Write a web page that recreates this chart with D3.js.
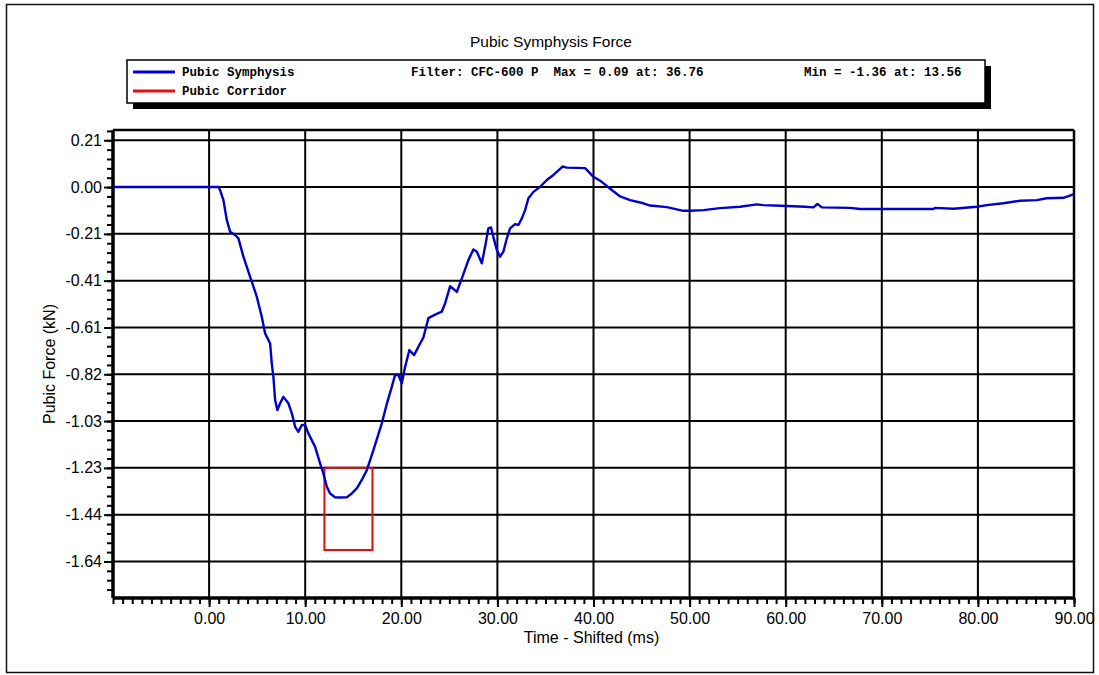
<!DOCTYPE html>
<html><head><meta charset="utf-8">
<script src="https://cdn.jsdelivr.net/npm/d3@7"></script>
<style>
body{margin:0;background:#fff}
text{font-family:"Liberation Sans",Arial,sans-serif;fill:#000}
.mono{font-family:"Liberation Mono","Courier New",monospace;font-weight:bold;font-size:12.5px;white-space:pre}
</style>
</head><body>
<svg id="c" width="1099" height="675"></svg>
<script>
// ---- data ----
const times = [-10, 0.97, 1.14, 1.49, 1.84, 2.19, 2.71, 3.05, 3.57, 4.27, 4.96, 5.48, 5.83, 6.35, 6.52, 6.69, 6.87, 7.11, 7.39, 7.73, 8.25, 8.61, 8.95, 9.29, 9.65, 9.99, 10.33, 11.03, 11.55, 11.89, 12.25, 12.59, 13.11, 13.56, 14.33, 14.85, 15.37, 15.89, 16.41, 17.10, 17.97, 18.49, 19.01, 19.35, 19.70, 20.05, 20.40, 20.84, 21.33, 21.96, 22.30, 22.82, 23.41, 24.21, 24.56, 25.08, 25.78, 26.30, 26.98, 27.50, 27.86, 28.38, 28.72, 29.06, 29.34, 29.58, 29.94, 30.28, 30.62, 30.98, 31.32, 31.84, 32.19, 32.54, 32.88, 33.23, 33.75, 34.44, 35.14, 35.83, 36.70, 36.76, 37.22, 39.13, 39.99, 40.86, 41.90, 42.77, 43.81, 45.19, 45.89, 47.63, 49.35, 50.05, 51.44, 53.17, 55.25, 56.99, 57.68, 60.11, 62.02, 62.88, 63.30, 63.76, 66.70, 67.74, 70.00, 75.37, 75.55, 77.45, 79.89, 80.93, 82.65, 84.39, 86.13, 87.17, 88.90, 89.94];
const forces = [0, 0, -0.013, -0.057, -0.144, -0.196, -0.210, -0.225, -0.305, -0.393, -0.480, -0.568, -0.641, -0.685, -0.772, -0.831, -0.933, -0.977, -0.947, -0.919, -0.947, -0.991, -1.050, -1.072, -1.042, -1.042, -1.079, -1.138, -1.210, -1.254, -1.313, -1.342, -1.359, -1.36, -1.359, -1.342, -1.320, -1.283, -1.240, -1.152, -1.035, -0.950, -0.875, -0.823, -0.823, -0.860, -0.787, -0.714, -0.736, -0.685, -0.659, -0.574, -0.561, -0.546, -0.509, -0.434, -0.459, -0.400, -0.320, -0.273, -0.283, -0.334, -0.261, -0.181, -0.177, -0.218, -0.276, -0.305, -0.283, -0.225, -0.181, -0.162, -0.166, -0.137, -0.101, -0.049, -0.021, 0.001, 0.031, 0.053, 0.086, 0.09, 0.085, 0.083, 0.045, 0.023, -0.013, -0.041, -0.057, -0.071, -0.081, -0.088, -0.104, -0.104, -0.101, -0.092, -0.086, -0.076, -0.079, -0.083, -0.086, -0.089, -0.074, -0.089, -0.091, -0.096, -0.096, -0.096, -0.091, -0.095, -0.086, -0.079, -0.071, -0.060, -0.057, -0.049, -0.047, -0.032];
const corridorTimes = [12, 12, 17, 17, 12];
const corridorForces = [-1.23, -1.59, -1.59, -1.23, -1.23];
const yTickValues = [0.205, 0, -0.205, -0.41, -0.615, -0.82, -1.025, -1.23, -1.435, -1.64];
const yTickLabels = ["0.21", "0.00", "-0.21", "-0.41", "-0.61", "-0.82", "-1.03", "-1.23", "-1.44", "-1.64"];
const xTickValues = [0, 10, 20, 30, 40, 50, 60, 70, 80, 90];
const xTickLabels = ["0.00", "10.00", "20.00", "30.00", "40.00", "50.00", "60.00", "70.00", "80.00", "90.00"];
const seriesNames = ["Pubic Symphysis", "Pubic Corridor"];
const seriesColors = ["#0000cc", "#e01010"];
const titleText = "Pubic Symphysis Force";
const statsFilter = "Filter: CFC-600 P  Max = 0.09 at: 36.76";
const statsMin = "Min = -1.36 at: 13.56";

// ---- layout ----
const svg = d3.select("#c");
const L = 113, R = 1074, T = 130, B = 598;
const x = d3.scaleLinear().domain([-10, 90]).range([L, R]);
const y = d3.scaleLinear().domain([-1.80, 0.25]).range([B, T]);

// outer border
svg.append("rect").attr("x", 6.5).attr("y", 4.5).attr("width", 1087).attr("height", 668)
  .attr("fill", "none").attr("stroke", "#111").attr("stroke-width", 1.5);

// title
svg.append("text").attr("x", 551).attr("y", 47).attr("text-anchor", "middle")
  .style("font-size", "15.5px").text(titleText);

// legend
svg.append("rect").attr("x", 133).attr("y", 66).attr("width", 858).attr("height", 43).attr("fill", "#000");
svg.append("rect").attr("x", 127).attr("y", 60).attr("width", 858).attr("height", 43)
  .attr("fill", "#fff").attr("stroke", "#000").attr("stroke-width", 1.5);
[0, 1].forEach(i => {
  const yy = 72 + i * 19;
  svg.append("line").attr("x1", 133).attr("x2", 175).attr("y1", yy).attr("y2", yy)
    .attr("stroke", seriesColors[i]).attr("stroke-width", 3);
  svg.append("text").attr("class", "mono").attr("x", 182).attr("y", yy + 4).text(seriesNames[i]);
});
svg.append("text").attr("class", "mono").attr("x", 411).attr("y", 76).text(statsFilter);
svg.append("text").attr("class", "mono").attr("x", 804).attr("y", 76).text(statsMin);

// gridlines
const grid = svg.append("g");
grid.selectAll(".h").data(yTickValues).join("line")
  .attr("x1", L).attr("x2", R).attr("y1", d => y(d)).attr("y2", d => y(d))
  .attr("stroke", "#000").attr("stroke-width", 2);
grid.selectAll(".v").data(xTickValues).join("line")
  .attr("y1", T).attr("y2", B).attr("x1", d => x(d)).attr("x2", d => x(d))
  .attr("stroke", "#000").attr("stroke-width", 2);

// frame
svg.append("line").attr("x1", L).attr("x2", R).attr("y1", T).attr("y2", T).attr("stroke", "#000").attr("stroke-width", 2.5);
svg.append("line").attr("x1", R).attr("x2", R).attr("y1", T).attr("y2", B).attr("stroke", "#000").attr("stroke-width", 2.5);

// minor ticks
const yMinor = d3.range(-44, 7).map(k => k * 0.041).filter(v => v >= -1.80 && v <= 0.25);
const xMinor = d3.range(-10, 91, 1);
const yMinorAxis = svg.append("g").attr("transform", `translate(${L},0)`)
  .call(d3.axisLeft(y).tickValues(yMinor).tickSize(6).tickFormat(""));
const xMinorAxis = svg.append("g").attr("transform", `translate(0,${B})`)
  .call(d3.axisBottom(x).tickValues(xMinor).tickSize(6).tickFormat(""));
[yMinorAxis, xMinorAxis].forEach(g => {
  g.select(".domain").remove();
  g.selectAll("line").attr("stroke", "#000").attr("stroke-width", 2);
});

// major axes
const yAxis = svg.append("g").attr("transform", `translate(${L},0)`)
  .call(d3.axisLeft(y).tickValues(yTickValues).tickSize(9).tickPadding(2).tickFormat((d, i) => yTickLabels[i]));
const xAxis = svg.append("g").attr("transform", `translate(0,${B})`)
  .call(d3.axisBottom(x).tickValues(xTickValues).tickSize(9).tickPadding(6).tickFormat((d, i) => xTickLabels[i]));
[yAxis, xAxis].forEach(g => {
  g.select(".domain").attr("stroke", "#000").attr("stroke-width", 3.5);
  g.selectAll("line").attr("stroke", "#000").attr("stroke-width", 2);
  g.selectAll("text").style("font-size", "16px").style("font-family", "'Liberation Sans',Arial,sans-serif").attr("fill", "#000");
});
yAxis.select(".domain").attr("d", `M0,${B}V${T}`);
xAxis.select(".domain").attr("d", `M${L},0H${R}`);

// axis titles
svg.append("text").attr("x", (L + R) / 2 - 2).attr("y", 643).attr("text-anchor", "middle")
  .style("font-size", "16px").text("Time - Shifted (ms)");
svg.append("text").attr("transform", `translate(55,${(T + B) / 2}) rotate(-90)`).attr("text-anchor", "middle")
  .style("font-size", "16px").text("Pubic Force (kN)");

// series
const line = d3.line().x(d => x(d[0])).y(d => y(d[1]));
svg.append("path").datum(d3.zip(corridorTimes, corridorForces)).attr("d", line)
  .attr("fill", "none").attr("stroke", seriesColors[1]).attr("stroke-width", 2);
svg.append("path").datum(d3.zip(times, forces)).attr("d", line)
  .attr("fill", "none").attr("stroke", seriesColors[0]).attr("stroke-width", 2.4).attr("stroke-linejoin", "round");
</script>
</body></html>
